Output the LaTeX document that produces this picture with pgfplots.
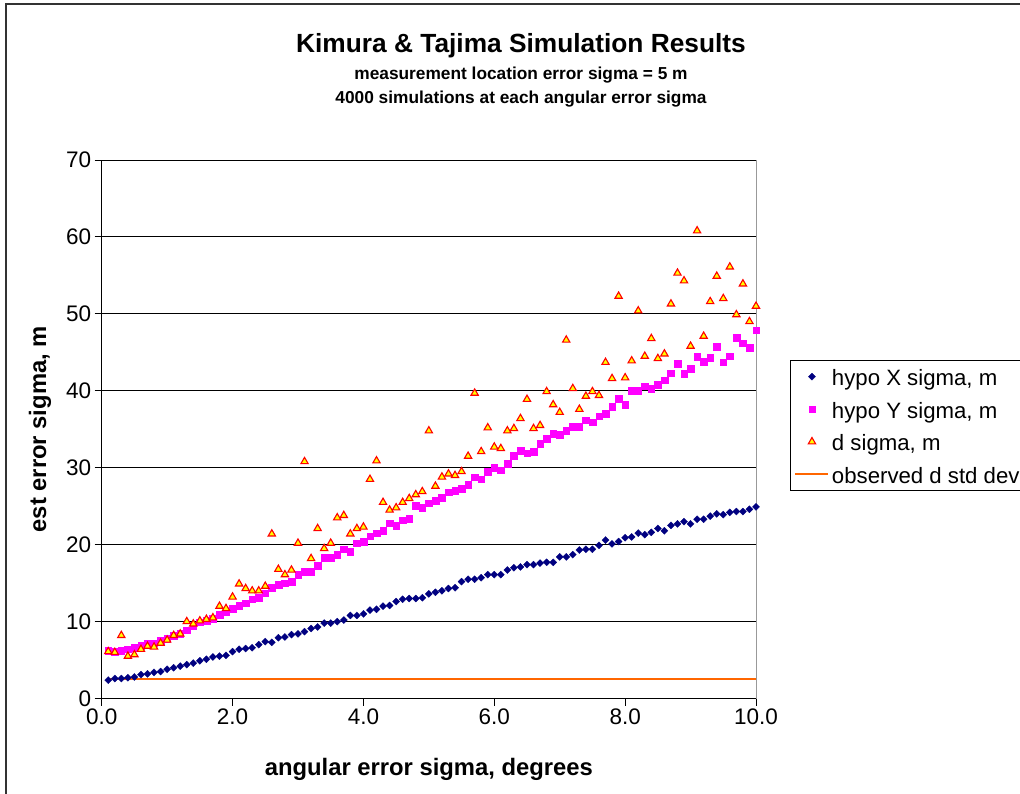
\documentclass[border=0pt]{standalone}
\usepackage{fontspec}
\setmainfont{Liberation Sans}
\usepackage{pgfplots}
\pgfplotsset{compat=1.18}
\definecolor{hxnavy}{RGB}{0,0,128}
\definecolor{hymag}{RGB}{255,0,255}
\definecolor{dred}{RGB}{255,0,0}
\definecolor{dyel}{RGB}{255,255,0}
\definecolor{obsorange}{RGB}{255,102,0}

\begin{document}
\begin{tikzpicture}
\useasboundingbox (0pt,0pt) rectangle (1020pt,-794pt);
% chart area frame (runs off the right and bottom edges)
\draw[line width=1.3pt, black!80] (6pt,-1100pt) -- (6pt,-4pt) -- (1300pt,-4pt);
\node[font=\fontsize{26.3}{30}\selectfont\bfseries] at (521pt,-46pt) {Kimura \& Tajima Simulation Results};
\node[font=\fontsize{17.3}{20}\selectfont\bfseries] at (521pt,-75pt) {measurement location error sigma = 5 m};
\node[font=\fontsize{17.3}{20}\selectfont\bfseries] at (521pt,-99pt) {4000 simulations at each angular error sigma};

\begin{axis}[
    at={(101.7pt,-698.5pt)}, anchor=south west,
    scale only axis, width=654.3pt, height=538.5pt,
    xmin=0, xmax=10, ymin=0, ymax=70,
    axis lines*=left, axis line style={-, black, line width=1pt},
    xtick={0,2,4,6,8,10}, ytick={0,10,...,70},
    tick align=outside, major tick length=7pt,
    tick style={black, line width=1pt},
    xticklabel style={/pgf/number format/.cd, fixed, fixed zerofill, precision=1},
    /pgf/number format/assume math mode=true,
    tick label style={font=\fontsize{22.5}{26}\selectfont},
    ymajorgrids, grid style={black, line width=0.9pt},
    xlabel={angular error sigma, degrees},
    ylabel={est error sigma, m},
    xlabel style={font=\fontsize{23.8}{28}\selectfont\bfseries, at={(axis description cs:0.5,-0.131)}, anchor=center},
    ylabel style={font=\fontsize{23.8}{28}\selectfont\bfseries, at={(axis description cs:-0.0943,0.5)}, anchor=center},
    clip=false,
    legend image code/.code={\draw[mark repeat=2,mark phase=2,#1] plot coordinates {(0pt,0pt) (16.5pt,0pt) (33pt,0pt)};},
    legend cell align=left,
    legend style={at={(1.052,0.6286)}, anchor=north west, draw=black, line width=0.9pt,
        font=\fontsize{22.2}{26}\selectfont, row sep=6.5pt, inner xsep=4pt, inner ysep=3.25pt,
        nodes={text height=19pt, text depth=1pt, inner ysep=3pt, inner xsep=2.5pt}},
]
\draw[gray!80, line width=1pt] (rel axis cs:1,0) -- (rel axis cs:1,1);

\addplot[forget plot, obsorange, line width=2pt] coordinates {(0.1,2.6) (10,2.6)};

\addplot[only marks, mark=square*, mark size=2.5pt, hxnavy, mark options={rotate=45, line width=0.3pt}] coordinates {
(0.1,2.4)(0.2,2.6)(0.3,2.6)(0.4,2.7)(0.5,2.8)(0.6,3.1)(0.7,3.2)(0.8,3.4)(0.9,3.5)(1.0,3.8)
(1.1,4.0)(1.2,4.2)(1.3,4.4)(1.4,4.6)(1.5,4.9)(1.6,5.1)(1.7,5.4)(1.8,5.5)(1.9,5.6)(2.0,6.1)
(2.1,6.4)(2.2,6.5)(2.3,6.6)(2.4,7.0)(2.5,7.4)(2.6,7.3)(2.7,7.9)(2.8,8.0)(2.9,8.3)(3.0,8.4)
(3.1,8.7)(3.2,9.1)(3.3,9.3)(3.4,9.8)(3.5,9.8)(3.6,10.0)(3.7,10.2)(3.8,10.8)(3.9,10.8)(4.0,11.0)
(4.1,11.5)(4.2,11.6)(4.3,12.0)(4.4,12.1)(4.5,12.6)(4.6,12.9)(4.7,13.0)(4.8,13.0)(4.9,13.1)(5.0,13.6)
(5.1,13.8)(5.2,14.0)(5.3,14.3)(5.4,14.4)(5.5,15.2)(5.6,15.5)(5.7,15.5)(5.8,15.7)(5.9,16.1)(6.0,16.1)
(6.1,16.1)(6.2,16.7)(6.3,17.0)(6.4,17.1)(6.5,17.4)(6.6,17.4)(6.7,17.6)(6.8,17.7)(6.9,17.7)(7.0,18.4)
(7.1,18.4)(7.2,18.7)(7.3,19.3)(7.4,19.4)(7.5,19.4)(7.6,19.9)(7.7,20.6)(7.8,20.1)(7.9,20.4)(8.0,20.9)
(8.1,21.0)(8.2,21.5)(8.3,21.3)(8.4,21.6)(8.5,22.1)(8.6,21.8)(8.7,22.5)(8.8,22.7)(8.9,23.0)(9.0,22.7)
(9.1,23.3)(9.2,23.3)(9.3,23.7)(9.4,24.0)(9.5,23.9)(9.6,24.2)(9.7,24.3)(9.8,24.3)(9.9,24.6)(10.0,24.9)
};
\addlegendentry{hypo X sigma, m}

\addplot[only marks, mark=square*, mark size=3.3pt, hymag, mark options={line width=0.3pt}] coordinates {
(0.1,6.2)(0.2,6.1)(0.3,6.2)(0.4,6.4)(0.5,6.6)(0.6,6.9)(0.7,7.1)(0.8,7.2)(0.9,7.5)(1.0,7.8)
(1.1,8.2)(1.2,8.4)(1.3,8.9)(1.4,9.5)(1.5,9.9)(1.6,10.1)(1.7,10.4)(1.8,10.9)(1.9,11.3)(2.0,11.7)
(2.1,12.1)(2.2,12.4)(2.3,12.9)(2.4,13.1)(2.5,13.7)(2.6,14.4)(2.7,14.8)(2.8,15.0)(2.9,15.2)(3.0,16.1)
(3.1,16.5)(3.2,16.5)(3.3,17.3)(3.4,18.3)(3.5,18.3)(3.6,18.7)(3.7,19.4)(3.8,19.1)(3.9,20.2)(4.0,20.4)
(4.1,21.1)(4.2,21.5)(4.3,21.8)(4.4,22.8)(4.5,22.5)(4.6,23.2)(4.7,23.4)(4.8,25.1)(4.9,24.8)(5.0,25.4)
(5.1,25.7)(5.2,26.1)(5.3,26.8)(5.4,27.0)(5.5,27.3)(5.6,27.8)(5.7,28.8)(5.8,28.5)(5.9,29.5)(6.0,30.0)
(6.1,29.7)(6.2,30.5)(6.3,31.6)(6.4,32.2)(6.5,31.9)(6.6,32.1)(6.7,33.1)(6.8,33.8)(6.9,34.4)(7.0,34.3)
(7.1,34.8)(7.2,35.3)(7.3,35.3)(7.4,36.2)(7.5,35.9)(7.6,36.7)(7.7,37.0)(7.8,37.9)(7.9,39.0)(8.0,38.2)
(8.1,40.0)(8.2,40.0)(8.3,40.6)(8.4,40.3)(8.5,40.8)(8.6,41.4)(8.7,42.3)(8.8,43.5)(8.9,42.2)(9.0,42.9)
(9.1,44.4)(9.2,43.8)(9.3,44.3)(9.4,45.7)(9.5,43.7)(9.6,44.5)(9.7,46.9)(9.8,46.2)(9.9,45.6)(10.0,47.9)
};
\addlegendentry{hypo Y sigma, m}

\addplot[only marks, mark=triangle*, mark size=4.2pt, mark options={draw=dred, fill=dyel, line width=1.1pt}] coordinates {
(0.1,6.1)(0.2,6.0)(0.3,8.2)(0.4,5.5)(0.5,5.7)(0.6,6.4)(0.7,6.8)(0.8,6.7)(0.9,7.2)(1.0,7.6)
(1.1,8.2)(1.2,8.4)(1.3,10.0)(1.4,9.7)(1.5,10.1)(1.6,10.3)(1.7,10.5)(1.8,12.0)(1.9,11.7)(2.0,13.2)
(2.1,14.9)(2.2,14.3)(2.3,14.0)(2.4,14.0)(2.5,14.6)(2.6,21.4)(2.7,16.8)(2.8,16.1)(2.9,16.7)(3.0,20.2)
(3.1,30.8)(3.2,18.2)(3.3,22.1)(3.4,19.5)(3.5,20.2)(3.6,23.5)(3.7,23.8)(3.8,21.4)(3.9,22.1)(4.0,22.3)
(4.1,28.5)(4.2,30.9)(4.3,25.5)(4.4,24.5)(4.5,24.8)(4.6,25.5)(4.7,26.0)(4.8,26.5)(4.9,26.9)(5.0,34.8)
(5.1,27.6)(5.2,28.8)(5.3,29.2)(5.4,29.0)(5.5,29.5)(5.6,31.5)(5.7,39.7)(5.8,32.1)(5.9,35.2)(6.0,32.7)
(6.1,32.5)(6.2,34.8)(6.3,35.1)(6.4,36.4)(6.5,38.9)(6.6,35.1)(6.7,35.5)(6.8,39.9)(6.9,38.2)(7.0,37.2)
(7.1,46.6)(7.2,40.3)(7.3,37.6)(7.4,39.3)(7.5,39.9)(7.6,39.4)(7.7,43.7)(7.8,41.6)(7.9,52.3)(8.0,41.7)
(8.1,43.9)(8.2,50.4)(8.3,44.5)(8.4,46.8)(8.5,44.2)(8.6,44.8)(8.7,51.3)(8.8,55.3)(8.9,54.3)(9.0,45.8)
(9.1,60.8)(9.2,47.1)(9.3,51.6)(9.4,54.9)(9.5,52.0)(9.6,56.1)(9.7,49.9)(9.8,53.9)(9.9,49.0)(10.0,51.0)
};
\addlegendentry{d sigma, m}

\addlegendimage{obsorange, line width=2pt}
\addlegendentry{observed d std dev}
\end{axis}
\end{tikzpicture}
\end{document}
